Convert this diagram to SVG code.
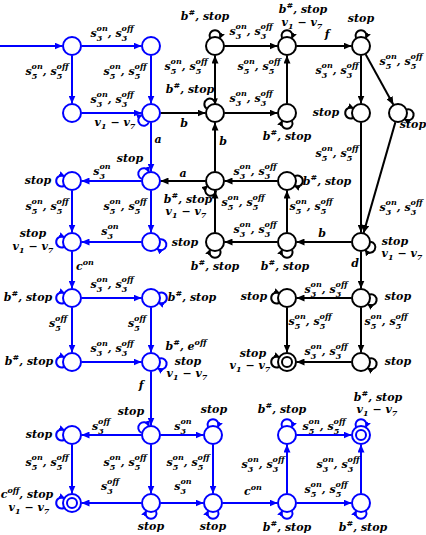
<svg xmlns="http://www.w3.org/2000/svg" width="426" height="535" viewBox="0 0 426 535">
<defs>
<style>
.nb circle{fill:#fff;stroke:#0000ff;stroke-width:2}
.nk circle{fill:#fff;stroke:#000;stroke-width:2}
.eb{fill:none;stroke:#0000ff;stroke-width:2;marker-end:url(#ab)}
.ek{fill:none;stroke:#000;stroke-width:2;marker-end:url(#ak)}
.lb{fill:none;stroke:#0000ff;stroke-width:2;marker-end:url(#lbm)}
.lk{fill:none;stroke:#000;stroke-width:2;marker-end:url(#lkm)}
text{font-family:"DejaVu Serif","Liberation Serif",serif;font-weight:bold;font-style:italic;font-size:11px;text-anchor:middle;fill:#000}
.s{font-size:8px}
</style>
<marker id="ab" markerWidth="8" markerHeight="7" refX="8" refY="3.5" orient="auto" markerUnits="userSpaceOnUse"><path d="M0,0L8,3.5L0,7z" fill="#0000ff"/></marker>
<marker id="ak" markerWidth="8" markerHeight="7" refX="8" refY="3.5" orient="auto" markerUnits="userSpaceOnUse"><path d="M0,0L8,3.5L0,7z" fill="#000"/></marker>
<marker id="lbm" markerWidth="6" markerHeight="6" refX="5" refY="3" orient="auto" markerUnits="userSpaceOnUse"><path d="M0,0L6,3L0,6z" fill="#0000ff"/></marker>
<marker id="lkm" markerWidth="6" markerHeight="6" refX="5" refY="3" orient="auto" markerUnits="userSpaceOnUse"><path d="M0,0L6,3L0,6z" fill="#000"/></marker>
</defs>
<rect width="426" height="535" fill="#fff"/>
<g id="connectors">
<path class="eb" d="M0,46L62.5,46"/>
<path class="eb" d="M81.5,46L141.5,46"/>
<path class="eb" d="M72,55.5L72,103.5"/>
<path class="eb" d="M151,55.5L151,103.5"/>
<path class="eb" d="M81.5,113L141.5,113"/>
<path class="eb" d="M151,122.5L151,171.5"/>
<path class="eb" d="M141.5,181L81.5,181"/>
<path class="eb" d="M72,190.5L72,232.5"/>
<path class="eb" d="M151,190.5L151,232.5"/>
<path class="eb" d="M141.5,242L81.5,242"/>
<path class="eb" d="M72,251.5L72,288.5"/>
<path class="eb" d="M81.5,298L141.5,298"/>
<path class="eb" d="M72,307.5L72,352.5"/>
<path class="eb" d="M151,307.5L151,352.5"/>
<path class="eb" d="M81.5,362L141.5,362"/>
<path class="eb" d="M151,371.5L151,425.5"/>
<path class="eb" d="M141.5,435L81.5,435"/>
<path class="eb" d="M160.5,435L203.5,435"/>
<path class="eb" d="M72,444.5L72,493.5"/>
<path class="eb" d="M151,444.5L151,493.5"/>
<path class="eb" d="M213,444.5L213,493.5"/>
<path class="eb" d="M141.5,503L81.5,503"/>
<path class="eb" d="M160.5,503L203.5,503"/>
<path class="eb" d="M222.5,503L277.5,503"/>
<path class="eb" d="M287,493.5L287,444.5"/>
<path class="eb" d="M296.5,435L351.5,435"/>
<path class="eb" d="M361,493.5L361,444.5"/>
<path class="eb" d="M296.5,503L351.5,503"/>
<path class="ek" d="M160.5,113L205.5,113"/>
<path class="ek" d="M215,103.5L215,55.5"/>
<path class="ek" d="M224.5,46L277.5,46"/>
<path class="ek" d="M287,103.5L287,55.5"/>
<path class="ek" d="M224.5,113L277.5,113"/>
<path class="ek" d="M296.5,46L351.5,46"/>
<path class="ek" d="M361,55.5L361,103.5"/>
<path class="ek" d="M365.6,54.3L393.4,104.7"/>
<path class="ek" d="M361,122.5L361,232.5"/>
<path class="ek" d="M395.4,122.1L363.6,232.9"/>
<path class="ek" d="M215,171.5L215,122.5"/>
<path class="ek" d="M277.5,181L224.5,181"/>
<path class="ek" d="M205.5,181L160.5,181"/>
<path class="ek" d="M215,232.5L215,190.5"/>
<path class="ek" d="M287,232.5L287,190.5"/>
<path class="ek" d="M277.5,242L224.5,242"/>
<path class="ek" d="M351.5,242L296.5,242"/>
<path class="ek" d="M361,251.5L361,288.5"/>
<path class="ek" d="M351.5,298L296.5,298"/>
<path class="ek" d="M287,307.5L287,352.5"/>
<path class="ek" d="M361,307.5L361,352.5"/>
<path class="ek" d="M351.5,362L296.5,362"/>
<path class="lb" d="M148.86,122.26a5.5,5.5 0 1 1 -7.12,-7.12"/>
<path class="lb" d="M141.74,178.86a5.5,5.5 0 1 1 7.12,-7.12"/>
<path class="lb" d="M63.94,186.03a5.5,5.5 0 1 1 0,-10.06"/>
<path class="lb" d="M63.94,247.03a5.5,5.5 0 1 1 0,-10.06"/>
<path class="lb" d="M160.08,239.22a5.5,5.5 0 1 1 -2.6,9.73"/>
<path class="lb" d="M63.94,303.03a5.5,5.5 0 1 1 0,-10.06"/>
<path class="lb" d="M159.06,292.97a5.5,5.5 0 1 1 0,10.06"/>
<path class="lb" d="M63.94,367.03a5.5,5.5 0 1 1 0,-10.06"/>
<path class="lb" d="M159.81,358.44a5.5,5.5 0 1 1 -1.75,9.92"/>
<path class="lb" d="M141.74,432.86a5.5,5.5 0 1 1 7.12,-7.12"/>
<path class="lb" d="M63.94,440.03a5.5,5.5 0 1 1 0,-10.06"/>
<path class="lb" d="M207.97,426.94a5.5,5.5 0 1 1 10.06,0"/>
<path class="lb" d="M63.94,508.03a5.5,5.5 0 1 1 0,-10.06"/>
<path class="lb" d="M156.03,511.06a5.5,5.5 0 1 1 -10.06,0"/>
<path class="lb" d="M218.03,511.06a5.5,5.5 0 1 1 -10.06,0"/>
<path class="lb" d="M281.97,426.94a5.5,5.5 0 1 1 10.06,0"/>
<path class="lb" d="M355.97,426.94a5.5,5.5 0 1 1 10.06,0"/>
<path class="lb" d="M292.03,511.06a5.5,5.5 0 1 1 -10.06,0"/>
<path class="lb" d="M366.03,511.06a5.5,5.5 0 1 1 -10.06,0"/>
<path class="lk" d="M209.97,37.94a5.5,5.5 0 1 1 10.06,0"/>
<path class="lk" d="M281.97,37.94a5.5,5.5 0 1 1 10.06,0"/>
<path class="lk" d="M355.97,37.94a5.5,5.5 0 1 1 10.06,0"/>
<path class="lk" d="M206.61,108.54a5.5,5.5 0 1 1 8.72,-5.03"/>
<path class="lk" d="M292.03,121.06a5.5,5.5 0 1 1 -10.06,0"/>
<path class="lk" d="M352.94,118.03a5.5,5.5 0 1 1 0,-10.06"/>
<path class="lk" d="M406.81,109.44a5.5,5.5 0 1 1 -1.75,9.92"/>
<path class="lk" d="M216.16,190.43a5.5,5.5 0 1 1 -9.13,-4.26"/>
<path class="lk" d="M295.06,175.97a5.5,5.5 0 1 1 0,10.06"/>
<path class="lk" d="M220.03,250.06a5.5,5.5 0 1 1 -10.06,0"/>
<path class="lk" d="M292.03,250.06a5.5,5.5 0 1 1 -10.06,0"/>
<path class="lk" d="M370.49,241.67a5.5,5.5 0 1 1 -5.03,8.72"/>
<path class="lk" d="M278.94,303.03a5.5,5.5 0 1 1 0,-10.06"/>
<path class="lk" d="M369.81,294.44a5.5,5.5 0 1 1 -1.75,9.92"/>
<path class="lk" d="M278.94,367.03a5.5,5.5 0 1 1 0,-10.06"/>
<path class="lk" d="M369.81,358.44a5.5,5.5 0 1 1 -1.75,9.92"/>
<text x="112" y="37">s<tspan class="s" dy="4">3</tspan><tspan class="s" dx="-5.6" dy="-10">on</tspan><tspan dy="6">, s</tspan><tspan class="s" dy="4">3</tspan><tspan class="s" dx="-5.6" dy="-10">off</tspan></text>
<text x="47" y="75">s<tspan class="s" dy="4">5</tspan><tspan class="s" dx="-5.6" dy="-10">on</tspan><tspan dy="6">, s</tspan><tspan class="s" dy="4">5</tspan><tspan class="s" dx="-5.6" dy="-10">off</tspan></text>
<text x="125" y="75">s<tspan class="s" dy="4">5</tspan><tspan class="s" dx="-5.6" dy="-10">on</tspan><tspan dy="6">, s</tspan><tspan class="s" dy="4">5</tspan><tspan class="s" dx="-5.6" dy="-10">off</tspan></text>
<text x="112" y="103">s<tspan class="s" dy="4">3</tspan><tspan class="s" dx="-5.6" dy="-10">on</tspan><tspan dy="6">, s</tspan><tspan class="s" dy="4">3</tspan><tspan class="s" dx="-5.6" dy="-10">off</tspan></text>
<text x="115" y="126">v<tspan class="s" dy="3">1</tspan><tspan dy="-3"> − v</tspan><tspan class="s" dy="3">7</tspan></text>
<text x="158" y="143">a</text>
<text x="130" y="162">stop</text>
<text x="102" y="175">s<tspan class="s" dy="4">3</tspan><tspan class="s" dx="-5.6" dy="-10">on</tspan></text>
<text x="38" y="184">stop</text>
<text x="47" y="210">s<tspan class="s" dy="4">5</tspan><tspan class="s" dx="-5.6" dy="-10">on</tspan><tspan dy="6">, s</tspan><tspan class="s" dy="4">5</tspan><tspan class="s" dx="-5.6" dy="-10">off</tspan></text>
<text x="125" y="210">s<tspan class="s" dy="4">5</tspan><tspan class="s" dx="-5.6" dy="-10">on</tspan><tspan dy="6">, s</tspan><tspan class="s" dy="4">5</tspan><tspan class="s" dx="-5.6" dy="-10">off</tspan></text>
<text x="110" y="235">s<tspan class="s" dy="4">3</tspan><tspan class="s" dx="-5.6" dy="-10">on</tspan></text>
<text x="185" y="246">stop</text>
<text x="33" y="237">stop</text>
<text x="33" y="250">v<tspan class="s" dy="3">1</tspan><tspan dy="-3"> − v</tspan><tspan class="s" dy="3">7</tspan></text>
<text x="85" y="270">c<tspan class="s" dy="-5">on</tspan></text>
<text x="28" y="301">b<tspan class="s" dy="-5">#</tspan><tspan dy="5">, stop</tspan></text>
<text x="112" y="288">s<tspan class="s" dy="4">3</tspan><tspan class="s" dx="-5.6" dy="-10">on</tspan><tspan dy="6">, s</tspan><tspan class="s" dy="4">3</tspan><tspan class="s" dx="-5.6" dy="-10">off</tspan></text>
<text x="192" y="301">b<tspan class="s" dy="-5">#</tspan><tspan dy="5">, stop</tspan></text>
<text x="58" y="327">s<tspan class="s" dy="4">5</tspan><tspan class="s" dx="-5.6" dy="-10">off</tspan></text>
<text x="137" y="327">s<tspan class="s" dy="4">5</tspan><tspan class="s" dx="-5.6" dy="-10">off</tspan></text>
<text x="112" y="352">s<tspan class="s" dy="4">3</tspan><tspan class="s" dx="-5.6" dy="-10">on</tspan><tspan dy="6">, s</tspan><tspan class="s" dy="4">3</tspan><tspan class="s" dx="-5.6" dy="-10">off</tspan></text>
<text x="29" y="365">b<tspan class="s" dy="-5">#</tspan><tspan dy="5">, stop</tspan></text>
<text x="186" y="350">b<tspan class="s" dy="-5">#</tspan><tspan dy="5">, e</tspan><tspan class="s" dy="-5">off</tspan></text>
<text x="188" y="365">stop</text>
<text x="187" y="377">v<tspan class="s" dy="3">1</tspan><tspan dy="-3"> − v</tspan><tspan class="s" dy="3">7</tspan></text>
<text x="141" y="389">f</text>
<text x="131" y="415">stop</text>
<text x="101" y="430">s<tspan class="s" dy="4">3</tspan><tspan class="s" dx="-5.6" dy="-10">off</tspan></text>
<text x="39" y="438">stop</text>
<text x="183" y="430">s<tspan class="s" dy="4">3</tspan><tspan class="s" dx="-5.6" dy="-10">on</tspan></text>
<text x="214" y="413">stop</text>
<text x="47" y="466">s<tspan class="s" dy="4">5</tspan><tspan class="s" dx="-5.6" dy="-10">on</tspan><tspan dy="6">, s</tspan><tspan class="s" dy="4">5</tspan><tspan class="s" dx="-5.6" dy="-10">off</tspan></text>
<text x="125" y="466">s<tspan class="s" dy="4">5</tspan><tspan class="s" dx="-5.6" dy="-10">on</tspan><tspan dy="6">, s</tspan><tspan class="s" dy="4">5</tspan><tspan class="s" dx="-5.6" dy="-10">off</tspan></text>
<text x="188" y="466">s<tspan class="s" dy="4">5</tspan><tspan class="s" dx="-5.6" dy="-10">on</tspan><tspan dy="6">, s</tspan><tspan class="s" dy="4">5</tspan><tspan class="s" dx="-5.6" dy="-10">off</tspan></text>
<text x="110" y="490">s<tspan class="s" dy="4">3</tspan><tspan class="s" dx="-5.6" dy="-10">off</tspan></text>
<text x="27" y="498">c<tspan class="s" dy="-5">off</tspan><tspan dy="5">, stop</tspan></text>
<text x="29" y="511">v<tspan class="s" dy="3">1</tspan><tspan dy="-3"> − v</tspan><tspan class="s" dy="3">7</tspan></text>
<text x="183" y="490">s<tspan class="s" dy="4">3</tspan><tspan class="s" dx="-5.6" dy="-10">on</tspan></text>
<text x="151" y="530">stop</text>
<text x="213" y="530">stop</text>
<text x="253" y="495">c<tspan class="s" dy="-5">on</tspan></text>
<text x="263" y="468">s<tspan class="s" dy="4">3</tspan><tspan class="s" dx="-5.6" dy="-10">on</tspan><tspan dy="6">, s</tspan><tspan class="s" dy="4">3</tspan><tspan class="s" dx="-5.6" dy="-10">off</tspan></text>
<text x="282" y="413">b<tspan class="s" dy="-5">#</tspan><tspan dy="5">, stop</tspan></text>
<text x="324" y="430">s<tspan class="s" dy="4">5</tspan><tspan class="s" dx="-5.6" dy="-10">on</tspan><tspan dy="6">, s</tspan><tspan class="s" dy="4">5</tspan><tspan class="s" dx="-5.6" dy="-10">off</tspan></text>
<text x="378" y="401">b<tspan class="s" dy="-5">#</tspan><tspan dy="5">, stop</tspan></text>
<text x="377" y="413">v<tspan class="s" dy="3">1</tspan><tspan dy="-3"> − v</tspan><tspan class="s" dy="3">7</tspan></text>
<text x="338" y="468">s<tspan class="s" dy="4">3</tspan><tspan class="s" dx="-5.6" dy="-10">on</tspan><tspan dy="6">, s</tspan><tspan class="s" dy="4">3</tspan><tspan class="s" dx="-5.6" dy="-10">off</tspan></text>
<text x="326" y="493">s<tspan class="s" dy="4">5</tspan><tspan class="s" dx="-5.6" dy="-10">on</tspan><tspan dy="6">, s</tspan><tspan class="s" dy="4">5</tspan><tspan class="s" dx="-5.6" dy="-10">off</tspan></text>
<text x="287" y="531">b<tspan class="s" dy="-5">#</tspan><tspan dy="5">, stop</tspan></text>
<text x="363" y="531">b<tspan class="s" dy="-5">#</tspan><tspan dy="5">, stop</tspan></text>
<text x="205" y="20">b<tspan class="s" dy="-5">#</tspan><tspan dy="5">, stop</tspan></text>
<text x="251" y="35">s<tspan class="s" dy="4">3</tspan><tspan class="s" dx="-5.6" dy="-10">on</tspan><tspan dy="6">, s</tspan><tspan class="s" dy="4">3</tspan><tspan class="s" dx="-5.6" dy="-10">off</tspan></text>
<text x="186" y="70">s<tspan class="s" dy="4">5</tspan><tspan class="s" dx="-5.6" dy="-10">on</tspan><tspan dy="6">, s</tspan><tspan class="s" dy="4">5</tspan><tspan class="s" dx="-5.6" dy="-10">off</tspan></text>
<text x="303" y="13">b<tspan class="s" dy="-5">#</tspan><tspan dy="5">, stop</tspan></text>
<text x="302" y="25.5">v<tspan class="s" dy="3">1</tspan><tspan dy="-3"> − v</tspan><tspan class="s" dy="3">7</tspan></text>
<text x="327" y="38">f</text>
<text x="361" y="22">stop</text>
<text x="337" y="74">s<tspan class="s" dy="4">3</tspan><tspan class="s" dx="-5.6" dy="-10">on</tspan><tspan dy="6">, s</tspan><tspan class="s" dy="4">3</tspan><tspan class="s" dx="-5.6" dy="-10">off</tspan></text>
<text x="401" y="65">s<tspan class="s" dy="4">5</tspan><tspan class="s" dx="-5.6" dy="-10">on</tspan><tspan dy="6">, s</tspan><tspan class="s" dy="4">5</tspan><tspan class="s" dx="-5.6" dy="-10">off</tspan></text>
<text x="190" y="93">b<tspan class="s" dy="-5">#</tspan><tspan dy="5">, stop</tspan></text>
<text x="251" y="102">s<tspan class="s" dy="4">3</tspan><tspan class="s" dx="-5.6" dy="-10">on</tspan><tspan dy="6">, s</tspan><tspan class="s" dy="4">3</tspan><tspan class="s" dx="-5.6" dy="-10">off</tspan></text>
<text x="259" y="70">s<tspan class="s" dy="4">5</tspan><tspan class="s" dx="-5.6" dy="-10">on</tspan><tspan dy="6">, s</tspan><tspan class="s" dy="4">5</tspan><tspan class="s" dx="-5.6" dy="-10">off</tspan></text>
<text x="184" y="127">b</text>
<text x="287" y="140">b<tspan class="s" dy="-5">#</tspan><tspan dy="5">, stop</tspan></text>
<text x="326" y="116">stop</text>
<text x="413" y="128">stop</text>
<text x="223" y="145">b</text>
<text x="337" y="157">s<tspan class="s" dy="4">5</tspan><tspan class="s" dx="-5.6" dy="-10">on</tspan><tspan dy="6">, s</tspan><tspan class="s" dy="4">5</tspan><tspan class="s" dx="-5.6" dy="-10">off</tspan></text>
<text x="255" y="175">s<tspan class="s" dy="4">3</tspan><tspan class="s" dx="-5.6" dy="-10">on</tspan><tspan dy="6">, s</tspan><tspan class="s" dy="4">3</tspan><tspan class="s" dx="-5.6" dy="-10">off</tspan></text>
<text x="327" y="185">b<tspan class="s" dy="-5">#</tspan><tspan dy="5">, stop</tspan></text>
<text x="183" y="177">a</text>
<text x="188" y="203">b<tspan class="s" dy="-5">#</tspan><tspan dy="5">, stop</tspan></text>
<text x="186" y="215">v<tspan class="s" dy="3">1</tspan><tspan dy="-3"> − v</tspan><tspan class="s" dy="3">7</tspan></text>
<text x="243" y="206">s<tspan class="s" dy="4">5</tspan><tspan class="s" dx="-5.6" dy="-10">on</tspan><tspan dy="6">, s</tspan><tspan class="s" dy="4">5</tspan><tspan class="s" dx="-5.6" dy="-10">off</tspan></text>
<text x="311" y="210">s<tspan class="s" dy="4">5</tspan><tspan class="s" dx="-5.6" dy="-10">on</tspan><tspan dy="6">, s</tspan><tspan class="s" dy="4">5</tspan><tspan class="s" dx="-5.6" dy="-10">off</tspan></text>
<text x="255" y="233">s<tspan class="s" dy="4">3</tspan><tspan class="s" dx="-5.6" dy="-10">on</tspan><tspan dy="6">, s</tspan><tspan class="s" dy="4">3</tspan><tspan class="s" dx="-5.6" dy="-10">off</tspan></text>
<text x="322" y="237">b</text>
<text x="401" y="211">s<tspan class="s" dy="4">3</tspan><tspan class="s" dx="-5.6" dy="-10">on</tspan><tspan dy="6">, s</tspan><tspan class="s" dy="4">3</tspan><tspan class="s" dx="-5.6" dy="-10">off</tspan></text>
<text x="395" y="245">stop</text>
<text x="402" y="257">v<tspan class="s" dy="3">1</tspan><tspan dy="-3"> − v</tspan><tspan class="s" dy="3">7</tspan></text>
<text x="355" y="267">d</text>
<text x="215" y="270">b<tspan class="s" dy="-5">#</tspan><tspan dy="5">, stop</tspan></text>
<text x="285" y="270">b<tspan class="s" dy="-5">#</tspan><tspan dy="5">, stop</tspan></text>
<text x="326" y="293">s<tspan class="s" dy="4">3</tspan><tspan class="s" dx="-5.6" dy="-10">on</tspan><tspan dy="6">, s</tspan><tspan class="s" dy="4">3</tspan><tspan class="s" dx="-5.6" dy="-10">off</tspan></text>
<text x="254" y="300">stop</text>
<text x="398" y="300">stop</text>
<text x="310" y="325">s<tspan class="s" dy="4">5</tspan><tspan class="s" dx="-5.6" dy="-10">on</tspan><tspan dy="6">, s</tspan><tspan class="s" dy="4">5</tspan><tspan class="s" dx="-5.6" dy="-10">off</tspan></text>
<text x="386" y="325">s<tspan class="s" dy="4">5</tspan><tspan class="s" dx="-5.6" dy="-10">on</tspan><tspan dy="6">, s</tspan><tspan class="s" dy="4">5</tspan><tspan class="s" dx="-5.6" dy="-10">off</tspan></text>
<text x="326" y="355">s<tspan class="s" dy="4">3</tspan><tspan class="s" dx="-5.6" dy="-10">on</tspan><tspan dy="6">, s</tspan><tspan class="s" dy="4">3</tspan><tspan class="s" dx="-5.6" dy="-10">off</tspan></text>
<text x="398" y="365">stop</text>
<text x="253" y="357">stop</text>
<text x="250" y="369">v<tspan class="s" dy="3">1</tspan><tspan dy="-3"> − v</tspan><tspan class="s" dy="3">7</tspan></text>
</g>
<g id="nA" class="nb"><circle cx="72" cy="46" r="9"/></g>
<g id="nB" class="nb"><circle cx="151" cy="46" r="9"/></g>
<g id="nC" class="nb"><circle cx="72" cy="113" r="9"/></g>
<g id="nD" class="nb"><circle cx="151" cy="113" r="9"/></g>
<g id="nQ" class="nb"><circle cx="72" cy="181" r="9"/></g>
<g id="nR" class="nb"><circle cx="151" cy="181" r="9"/></g>
<g id="nS" class="nb"><circle cx="72" cy="242" r="9"/></g>
<g id="nT" class="nb"><circle cx="151" cy="242" r="9"/></g>
<g id="nU" class="nb"><circle cx="72" cy="298" r="9"/></g>
<g id="nV" class="nb"><circle cx="151" cy="298" r="9"/></g>
<g id="nW" class="nb"><circle cx="72" cy="362" r="9"/></g>
<g id="nX" class="nb"><circle cx="151" cy="362" r="9"/></g>
<g id="nBA" class="nb"><circle cx="72" cy="435" r="9"/></g>
<g id="nBB" class="nb"><circle cx="151" cy="435" r="9"/></g>
<g id="nBC" class="nb"><circle cx="72" cy="503" r="9"/><circle cx="72" cy="503" r="5"/></g>
<g id="nBD" class="nb"><circle cx="151" cy="503" r="9"/></g>
<g id="nBE" class="nb"><circle cx="213" cy="435" r="9"/></g>
<g id="nBF" class="nb"><circle cx="213" cy="503" r="9"/></g>
<g id="nBG" class="nb"><circle cx="287" cy="435" r="9"/></g>
<g id="nBH" class="nb"><circle cx="361" cy="435" r="9"/><circle cx="361" cy="435" r="5"/></g>
<g id="nBI" class="nb"><circle cx="287" cy="503" r="9"/></g>
<g id="nBJ" class="nb"><circle cx="361" cy="503" r="9"/></g>
<g id="nE" class="nk"><circle cx="215" cy="46" r="9"/></g>
<g id="nF" class="nk"><circle cx="287" cy="46" r="9"/></g>
<g id="nG" class="nk"><circle cx="361" cy="46" r="9"/></g>
<g id="nH" class="nk"><circle cx="215" cy="113" r="9"/></g>
<g id="nI" class="nk"><circle cx="287" cy="113" r="9"/></g>
<g id="nJ" class="nk"><circle cx="361" cy="113" r="9"/></g>
<g id="nK" class="nk"><circle cx="398" cy="113" r="9"/></g>
<g id="nL" class="nk"><circle cx="215" cy="181" r="9"/></g>
<g id="nM" class="nk"><circle cx="287" cy="181" r="9"/></g>
<g id="nN" class="nk"><circle cx="215" cy="242" r="9"/></g>
<g id="nO" class="nk"><circle cx="287" cy="242" r="9"/></g>
<g id="nP" class="nk"><circle cx="361" cy="242" r="9"/></g>
<g id="nY" class="nk"><circle cx="287" cy="298" r="9"/></g>
<g id="nZ" class="nk"><circle cx="361" cy="298" r="9"/></g>
<g id="nAA" class="nk"><circle cx="287" cy="362" r="9"/><circle cx="287" cy="362" r="5"/></g>
<g id="nAB" class="nk"><circle cx="361" cy="362" r="9"/></g>
</svg>
